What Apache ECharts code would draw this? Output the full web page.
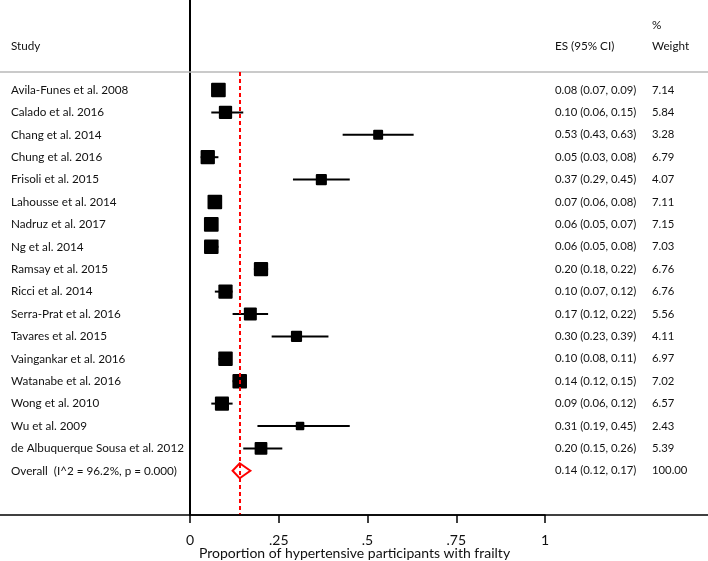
<!DOCTYPE html>
<html>
<head>
<meta charset="utf-8">
<script src="https://cdn.jsdelivr.net/npm/echarts@6/dist/echarts.min.js"></script>
<style>
html,body{margin:0;padding:0;background:#fff;}
#chart{width:708px;height:561px;}
</style>
</head>
<body>
<div id="chart"></div>
<script>
// ---- data ----
const studies = [
  'Avila-Funes et al. 2008','Calado et al. 2016','Chang et al. 2014','Chung et al. 2016',
  'Frisoli et al. 2015','Lahousse et al. 2014','Nadruz et al. 2017','Ng et al. 2014',
  'Ramsay et al. 2015','Ricci et al. 2014','Serra-Prat et al. 2016','Tavares et al. 2015',
  'Vaingankar et al. 2016','Watanabe et al. 2016','Wong et al. 2010','Wu et al. 2009',
  'de Albuquerque Sousa et al. 2012'
];
const es  = [0.08,0.10,0.53,0.05,0.37,0.07,0.06,0.06,0.20,0.10,0.17,0.30,0.10,0.14,0.09,0.31,0.20];
const lo  = [0.07,0.06,0.43,0.03,0.29,0.06,0.05,0.05,0.18,0.07,0.12,0.23,0.08,0.12,0.06,0.19,0.15];
const hi  = [0.09,0.15,0.63,0.08,0.45,0.08,0.07,0.08,0.22,0.12,0.22,0.39,0.11,0.15,0.12,0.45,0.26];
const weights = [7.14,5.84,3.28,6.79,4.07,7.11,7.15,7.03,6.76,6.76,5.56,4.11,6.97,7.02,6.57,2.43,5.39];
const overallLabel = 'Overall  (I^2 = 96.2%, p = 0.000)';
const overallES = 0.14, overallLo = 0.12, overallHi = 0.17, overallWeight = 100.00;
const xTickValues = [0, 0.25, 0.5, 0.75, 1];
const xTickLabels = ['0', '.25', '.5', '.75', '1'];
const headerStudy = 'Study', headerES = 'ES (95% CI)', headerPct = '%', headerWeight = 'Weight';
const xTitle = 'Proportion of hypertensive participants with frailty';

// ---- layout ----
const FONT = 'Lato, "Liberation Sans", sans-serif';
const FS_NAME = 11.7, FS_NUM = 11.3;
const ROW0 = 90, ROWH = 22.4, AXIS_Y = 515, W = 708;
const X_ES = 555, X_W = 652;
const yMin = -ROW0 / ROWH, yMax = (AXIS_Y - ROW0) / ROWH;

const rowNames = studies.concat([overallLabel]);
const fmt = v => v.toFixed(2);
const rowES = es.map((v,i)=>`${fmt(v)} (${fmt(lo[i])}, ${fmt(hi[i])})`).concat([`${fmt(overallES)} (${fmt(overallLo)}, ${fmt(overallHi)})`]);
const rowW = weights.map(fmt).concat([fmt(overallWeight)]);

function txt(x, y, t, fs, align) {
  align = align || 'left';
  return {type:'text', x:x, y:y, style:{text:t, fill:'#111', font:`${fs}px ${FONT}`,
    textAlign:align, textVerticalAlign:'middle', align:align, verticalAlign:'middle'}};
}

const chart = echarts.init(document.getElementById('chart'), null, {renderer:'canvas'});
chart.setOption({
  animation:false,
  backgroundColor:'#fff',
  grid:{left:190, right:W-545, top:0, bottom:561-AXIS_Y, containLabel:false, outerBoundsMode:'none'},
  xAxis:{type:'value', min:0, max:1, interval:0.25,
    axisLine:{show:true, onZero:false, lineStyle:{color:'#000', width:1.5}},
    axisTick:{show:true, inside:false, length:8, lineStyle:{color:'#000', width:1.5}},
    axisLabel:{margin:18, fontSize:14, fontFamily:FONT, color:'#111',
      formatter:v => { const k = xTickValues.findIndex(t => Math.abs(t - v) < 1e-9); return k >= 0 ? xTickLabels[k] : ''; }},
    splitLine:{show:false}
  },
  yAxis:{type:'value', inverse:true, min:yMin, max:yMax,
    axisLine:{show:true, onZero:false, lineStyle:{color:'#000', width:2}},
    axisTick:{show:false}, axisLabel:{show:false}, splitLine:{show:false}},
  graphic:[
    {type:'line', shape:{x1:0, y1:72, x2:W, y2:72}, style:{stroke:'#b8b8b8', lineWidth:1.5}, z:1},
    {type:'line', shape:{x1:0, y1:AXIS_Y, x2:W, y2:AXIS_Y}, style:{stroke:'#000', lineWidth:1.5}, z:10},
    txt(11, 46, headerStudy, FS_NAME), txt(X_ES, 46, headerES, FS_NAME),
    txt(X_W, 25, headerPct, FS_NAME), txt(X_W, 46, headerWeight, FS_NAME),
    txt(354.5, 553, xTitle, 14, 'center')
  ],
  series:[
    {
      type:'custom', name:'studies', z:5,
      data: studies.map((s,i)=>[es[i], lo[i], hi[i], weights[i], i]),
      encode:{x:[0,1,2], y:4},
      renderItem:(params, api) => {
        const y = api.value(4);
        const c = api.coord([api.value(0), y]);
        const l = api.coord([api.value(1), y]);
        const h = api.coord([api.value(2), y]);
        const s = 5.5 * Math.sqrt(api.value(3));
        return {type:'group', children:[
          {type:'line', shape:{x1:l[0], y1:c[1], x2:h[0], y2:c[1]}, style:{stroke:'#000', lineWidth:2}},
          {type:'rect', shape:{x:c[0]-s/2, y:c[1]-s/2, width:s, height:s, r:1}, style:{fill:'#000'}}
        ]};
      }
    },
    {
      type:'custom', name:'overall', z:6,
      data:[[overallES, overallLo, overallHi, studies.length]],
      encode:{x:[0,1,2], y:3},
      renderItem:(params, api) => {
        const y = api.value(3);
        const c = api.coord([api.value(0), y]);
        const l = api.coord([api.value(1), y]);
        const h = api.coord([api.value(2), y]);
        const hh = 7.5;
        return {type:'polygon', shape:{points:[[l[0],c[1]],[c[0],c[1]-hh],[h[0],c[1]],[c[0],c[1]+hh]]},
          style:{fill:'rgba(0,0,0,0)', stroke:'#ff0000', lineWidth:2}};
      },
      markLine:{silent:true, symbol:'none', label:{show:false}, z:7,
        lineStyle:{color:'#ff0000', type:[4,3], width:2},
        data:[[{coord:[overallES, -0.8]}, {coord:[overallES, yMax]}]]}
    },
    {
      type:'custom', name:'text', z:4, clip:false,
      data: rowNames.map((n,i)=>[0, i]),
      encode:{x:0, y:1},
      renderItem:(params, api) => {
        const i = params.dataIndex;
        const yc = api.coord([0, api.value(1)])[1];
        return {type:'group', children:[txt(11, yc, rowNames[i], FS_NAME), txt(X_ES, yc, rowES[i], FS_NUM), txt(X_W, yc, rowW[i], FS_NUM)]};
      }
    }
  ]
});
</script>
</body>
</html>
